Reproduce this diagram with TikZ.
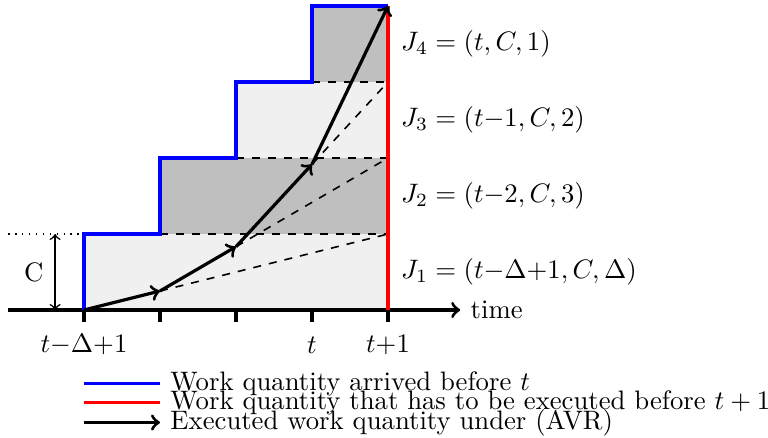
\documentclass[tikz,border=0pt]{standalone}
\usepackage{amsmath,amssymb}
\usepackage{tikz}
\usetikzlibrary{positioning}

\begin{document}
\begin{tikzpicture}[
  axis/.style={very thick},
  arrived/.style={blue, very thick},
  deadline/.style={red, very thick},
  executed/.style={very thick, ->},
  guide/.style={dashed, semithick},
  lightjob/.style={fill=black!6},
  darkjob/.style={fill=black!25},
  legendtext/.style={right, text=black}
]
\useasboundingbox (-1.105,-1.684) rectangle (9.0,4.079);

% job areas
\fill[lightjob] (0,0) rectangle (4,1);
\fill[darkjob] (1,1) rectangle (4,2);
\fill[lightjob] (2,2) rectangle (4,3);
\fill[darkjob] (3,3) rectangle (4,4);

% executed work points
\coordinate (e0) at (0,0);
\coordinate (e1) at (1,0.25);
\coordinate (e2) at (2,0.8333);
\coordinate (e3) at (3,1.9167);
\coordinate (e4) at (4,4);

\draw[guide] (1,1) -- (4,1);
\draw[guide] (2,2) -- (4,2);
\draw[guide] (3,3) -- (4,3);
\draw[guide] (e1) -- (4,1);
\draw[guide] (e2) -- (4,2);
\draw[guide] (e3) -- (4,3);

% time axis
\draw[axis,->] (-1,0) -- (4.95,0) node[right] (time) {time};
\foreach \x in {0,...,4}
  \draw[axis] (\x,0) -- (\x,-0.16);
\node (tstart) at (0,-0.46) {$t{-}\Delta{+}1$};
\node (tnow) at (3,-0.46) {$t$};
\node (tnext) at (4,-0.46) {$t{+}1$};

% arrived and deadline
\draw[arrived] (0,0) -- (0,1) -- (1,1) -- (1,2) -- (2,2) -- (2,3) -- (3,3) -- (3,4) -- (4,4);
\draw[deadline] (4,0) -- (4,4);

\draw[executed] (e0) -- (e1);
\draw[executed] (e1) -- (e2);
\draw[executed] (e2) -- (e3);
\draw[executed] (e3) -- (e4);

% size of one job
\draw[dotted, semithick] (-1,1) -- (0,1);
\draw[<->, semithick] (-0.38,0) -- (-0.38,1);
\node (csize) at (-0.66,0.5) {C};

% jobs
\node[right] (j1) at (4.05,0.5) {$J_1=(t{-}\Delta{+}1,C,\Delta)$};
\node[right] (j2) at (4.05,1.5) {$J_2=(t{-}2,C,3)$};
\node[right] (j3) at (4.05,2.5) {$J_3=(t{-}1,C,2)$};
\node[right] (j4) at (4.05,3.5) {$J_4=(t,C,1)$};

% legend
\draw[arrived] (0,-0.97) -- (1,-0.97) node[legendtext] (lgarrived) {Work quantity arrived before $t$};
\draw[deadline] (0,-1.22) -- (1,-1.22) node[legendtext] (lgdeadline) {Work quantity that has to be executed before $t+1$};
\draw[executed] (0,-1.48) -- (1,-1.48) node[legendtext] (lgexecuted) {Executed work quantity under (AVR)};
\end{tikzpicture}
\end{document}
